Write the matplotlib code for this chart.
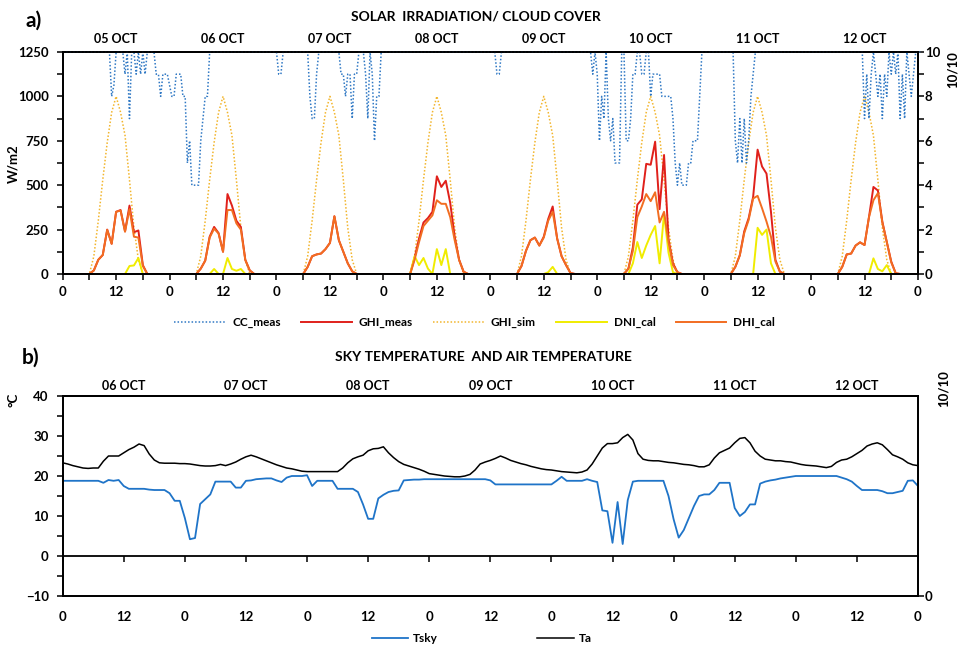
import numpy as np
import matplotlib
matplotlib.use("Agg")
import matplotlib.pyplot as plt
from matplotlib.ticker import MultipleLocator, FixedLocator

plt.rcParams.update({
    "font.family": ["Lato", "DejaVu Sans"],
    "font.weight": "bold",
    "font.size": 9,
    "axes.linewidth": 1.3,
    "xtick.major.width": 1.1, "ytick.major.width": 1.1,
    "xtick.minor.width": 1.1, "ytick.minor.width": 1.1,
})

# ---------------- panel a: hourly irradiation (W/m2), 05-12 OCT, hour 0..192 ----------------
GHI_MEAS = [
    0, 0, 0, 0, 0, 0, 0, 20, 80, 107, 250, 170, 350, 360, 240, 385, 235, 245, 50, 0, 0, 0, 0, 0,     # 05 OCT
    0, 0, 0, 0, 0, 0, 0, 30, 75, 210, 265, 230, 125, 450, 385, 300, 265, 80, 20, 0, 0, 0, 0, 0,      # 06 OCT
    0, 0, 0, 0, 0, 0, 0, 40, 100, 110, 115, 140, 175, 325, 190, 125, 60, 15, 0, 0, 0, 0, 0, 0,      # 07 OCT
    0, 0, 0, 0, 0, 0, 0, 90, 200, 290, 315, 350, 550, 490, 525, 400, 210, 80, 13, 0, 0, 0, 0, 0,    # 08 OCT
    0, 0, 0, 0, 0, 0, 0, 45, 130, 190, 205, 160, 210, 310, 380, 200, 100, 50, 5, 0, 0, 0, 0, 0,     # 09 OCT
    0, 0, 0, 0, 0, 0, 0, 30, 150, 390, 420, 620, 615, 745, 365, 670, 195, 60, 10, 0, 0, 0, 0, 0,    # 10 OCT
    0, 0, 0, 0, 0, 0, 0, 40, 105, 240, 315, 435, 700, 605, 565, 350, 80, 13, 0, 0, 0, 0, 0, 0,      # 11 OCT
    0, 0, 0, 0, 0, 0, 0, 40, 110, 115, 160, 178, 163, 320, 490, 470, 295, 180, 70, 4, 0, 0, 0, 0,   # 12 OCT
    0,
]
DHI_CAL = [
    0, 0, 0, 0, 0, 0, 0, 20, 80, 107, 248, 170, 350, 357, 238, 365, 210, 205, 45, 0, 0, 0, 0, 0,
    0, 0, 0, 0, 0, 0, 0, 30, 75, 205, 255, 228, 125, 360, 360, 285, 250, 78, 20, 0, 0, 0, 0, 0,
    0, 0, 0, 0, 0, 0, 0, 40, 100, 110, 115, 140, 175, 325, 190, 125, 60, 15, 0, 0, 0, 0, 0, 0,
    0, 0, 0, 0, 0, 0, 0, 80, 180, 270, 300, 330, 415, 395, 395, 320, 190, 78, 13, 0, 0, 0, 0, 0,
    0, 0, 0, 0, 0, 0, 0, 45, 130, 190, 205, 160, 205, 300, 350, 200, 100, 50, 5, 0, 0, 0, 0, 0,
    0, 0, 0, 0, 0, 0, 0, 30, 130, 320, 380, 450, 410, 460, 290, 350, 180, 50, 10, 0, 0, 0, 0, 0,
    0, 0, 0, 0, 0, 0, 0, 40, 105, 230, 305, 425, 440, 370, 295, 210, 70, 13, 0, 0, 0, 0, 0, 0,
    0, 0, 0, 0, 0, 0, 0, 40, 110, 115, 160, 178, 163, 320, 415, 455, 290, 180, 65, 4, 0, 0, 0, 0,
    0,
]
DNI_CAL = [
    0, 0, 0, 0, 0, 0, 0, 0, 0, 0, 0, 0, 0, 0, 0, 45, 48, 90, 0, 0, 0, 0, 0, 0,
    0, 0, 0, 0, 0, 0, 0, 0, 0, 0, 28, 0, 0, 90, 28, 18, 28, 0, 0, 0, 0, 0, 0, 0,
    0, 0, 0, 0, 0, 0, 0, 0, 0, 0, 0, 0, 0, 0, 0, 0, 0, 0, 0, 0, 0, 0, 0, 0,
    0, 0, 0, 0, 0, 0, 0, 100, 50, 90, 30, 0, 140, 50, 140, 0, 0, 0, 0, 0, 0, 0, 0, 0,
    0, 0, 0, 0, 0, 0, 0, 0, 0, 0, 0, 0, 0, 10, 40, 0, 0, 0, 0, 0, 0, 0, 0, 0,
    0, 0, 0, 0, 0, 0, 0, 0, 60, 180, 90, 160, 220, 270, 60, 340, 120, 10, 0, 0, 0, 0, 0, 0,
    0, 0, 0, 0, 0, 0, 0, 0, 0, 0, 0, 0, 260, 220, 250, 60, 0, 0, 0, 0, 0, 0, 0, 0,
    0, 0, 0, 0, 0, 0, 0, 0, 0, 0, 0, 0, 0, 0, 88, 28, 15, 50, 0, 0, 0, 0, 0, 0,
    0,
]
# simulated clear-sky GHI, same profile every day
GHI_SIM_DAY = [0, 0, 0, 0, 0, 0, 0, 100, 300, 530, 740, 910, 1000, 910, 780, 530, 260, 80, 0, 0, 0, 0, 0, 0]
GHI_SIM = GHI_SIM_DAY * 8 + [0]

# cloud cover (tenths), half-hourly
CC_MEAS = [
    10, 10, 10, 10, 10, 10, 10, 10, 10, 10, 10, 10, 10, 10, 10, 10, 10, 10, 10, 10, 10, 10,
    8, 8.5, 10, 10, 10, 10, 9, 10, 7, 10, 10, 9, 10, 9, 10, 9, 10, 10, 10, 10, 9, 9, 8, 9, 9, 9,
    8.5, 8, 8, 9, 9, 9, 8, 8, 5, 6, 4, 4, 4, 4, 6, 7, 8, 8, 10,
    10, 10, 10, 10, 10, 10, 10, 10, 10, 10, 10, 10, 10, 10, 10, 10, 10, 10, 10, 10, 10, 10, 10, 10, 10, 10, 10, 10, 10,
    10, 9, 9, 10, 10, 10, 10, 10, 10, 10, 10, 10, 10, 10, 10, 8, 7, 7, 9, 10,
    10, 10, 10, 10, 10, 10, 10, 10, 10, 9, 9, 8, 9, 9, 7, 9, 9, 10, 10, 10, 9, 7, 10, 9, 6, 8, 8, 10,
    10, 10, 10, 10, 10, 10, 10, 10, 10, 10, 10, 10, 10, 10, 10, 10, 10, 10, 10, 10, 10, 10, 10, 10,
    10, 10, 10, 10, 10, 10, 10, 10, 10, 10, 10, 10, 10, 10, 10, 10, 10, 10, 10, 10, 10, 10, 10, 10,
    10, 10, 10, 9, 9, 10, 10, 10, 10, 10, 10, 10, 10, 10, 10, 10, 10, 10, 10, 10, 10, 10, 10, 10,
    10, 10, 10, 10, 10, 10, 10, 10, 10, 10, 10, 10, 10, 10, 10, 10, 10, 10, 10, 10, 10, 10, 9, 10, 9,
    6, 8, 7, 10, 7, 6, 7, 5, 5, 5, 10, 10, 6, 6, 7, 9, 9, 10, 10, 9, 9, 10, 10, 8,
    9, 9, 9, 9, 8, 8, 8, 8, 8, 7, 5, 4, 5, 4, 4, 4, 5, 5, 6, 6, 6, 8, 10, 10,
    10, 10, 10, 10, 10, 10, 10, 10, 10, 10, 10, 10, 10, 6, 5, 7, 5, 7, 5, 6, 8, 9, 10,
    10, 10, 10, 10, 10, 10, 10, 10, 10, 10, 10, 10, 10, 10, 10, 10, 10, 10, 10, 10, 10, 10, 10, 10, 10,
    10, 10, 10, 10, 10, 10, 10, 10, 10, 10, 10, 10, 10, 10, 10, 10, 10, 10, 10, 10, 10, 10, 10,
    7, 9, 7, 9, 10, 9, 8, 9, 7, 9, 8, 10, 9, 10, 9, 10, 7, 9, 7, 10, 9, 8, 9, 10, 10,
    10,
]
DAYS_A = ["05 OCT", "06 OCT", "07 OCT", "08 OCT", "09 OCT", "10 OCT", "11 OCT", "12 OCT"]

# ---------------- panel b: hourly temperatures (deg C), 06-12 OCT, hour 0..168 ----------------
TSKY = [
    18.8, 18.8, 18.8, 18.8, 18.8, 18.8, 18.8, 18.8, 18.3, 19.0, 18.8, 19.0,
    17.5, 16.8, 16.8, 16.8, 16.8, 16.6, 16.5, 16.5, 16.5, 15.7, 13.8, 13.8,
    9.5, 4.2, 4.5, 13.0, 14.2, 15.4, 18.6, 18.6, 18.6, 18.6, 17.1, 17.1,
    18.8, 18.9, 19.2, 19.3, 19.4, 19.4, 18.9, 18.5, 19.6, 20.0, 20.0, 20.0,
    20.2, 17.5, 18.8, 18.8, 18.8, 18.8, 16.8, 16.8, 16.8, 16.8, 16.0, 12.9,
    9.3, 9.3, 14.4, 15.3, 16.0, 16.3, 16.4, 18.9, 19.0, 19.1, 19.1, 19.2,
    19.2, 19.2, 19.2, 19.2, 19.2, 19.2, 19.2, 19.2, 19.2, 19.2, 19.2, 19.2,
    18.9, 17.9, 17.9, 17.9, 17.9, 17.9, 17.9, 17.9, 17.9, 17.9, 17.9, 17.9,
    17.9, 18.8, 19.8, 18.8, 18.8, 18.8, 18.8, 19.2, 18.8, 18.5, 11.4, 11.2,
    3.3, 13.5, 3.0, 14.0, 18.6, 18.8, 18.8, 18.8, 18.8, 18.8, 18.8, 15.0,
    9.2, 4.6, 6.5, 9.5, 12.5, 15.0, 15.4, 15.4, 16.5, 18.3, 18.3, 18.3,
    12.0, 10.0, 11.0, 12.9, 12.9, 18.1, 18.6, 18.9, 19.1, 19.4, 19.6, 19.8,
    20.0, 20.0, 20.0, 20.0, 20.0, 20.0, 20.0, 20.0, 20.0, 19.6, 19.2, 18.6,
    17.5, 16.5, 16.5, 16.5, 16.5, 16.2, 15.7, 15.7, 16.0, 16.3, 18.8, 18.9,
    17.5,
]
TA = [
    23.3, 23.0, 22.6, 22.3, 22.0, 21.9, 22.0, 22.0, 23.7, 25.0, 25.0, 25.0,
    25.8, 26.6, 27.2, 28.0, 27.6, 25.5, 24.0, 23.3, 23.2, 23.2, 23.2, 23.1,
    23.1, 23.0, 22.8, 22.6, 22.5, 22.5, 22.6, 22.9, 22.6, 23.0, 23.5, 24.2,
    24.8, 25.2, 24.8, 24.3, 23.8, 23.3, 22.8, 22.4, 22.0, 21.8, 21.5, 21.2,
    21.1, 21.1, 21.1, 21.1, 21.1, 21.1, 21.1, 22.0, 23.3, 24.3, 24.8, 25.2,
    26.3, 26.8, 26.9, 27.3, 25.8, 24.6, 23.6, 22.9, 22.5, 22.1, 21.7, 21.2,
    20.6, 20.4, 20.2, 20.0, 19.9, 19.8, 19.8, 20.0, 20.4, 21.5, 23.0, 23.5,
    23.9, 24.4, 25.0, 24.5, 23.9, 23.5, 23.1, 22.8, 22.4, 22.1, 21.8, 21.6,
    21.5, 21.3, 21.1, 21.0, 20.9, 20.8, 21.0, 21.5, 23.0, 25.0, 27.0, 28.1,
    28.1, 28.3, 29.6, 30.4, 29.0, 25.6, 24.2, 23.9, 23.8, 23.8, 23.6, 23.4,
    23.3, 23.1, 22.9, 22.8, 22.6, 22.3, 22.3, 22.8, 24.5, 25.8, 26.4, 27.0,
    28.3, 29.4, 29.6, 28.3, 26.2, 25.0, 24.2, 24.0, 23.8, 23.8, 23.6, 23.5,
    23.2, 22.9, 22.7, 22.6, 22.5, 22.3, 22.1, 22.4, 23.4, 24.0, 24.2, 24.8,
    25.6, 26.4, 27.5, 28.0, 28.3, 27.8, 26.6, 25.3, 24.8, 24.2, 23.3, 22.8,
    22.6,
]
DAYS_B = ["06 OCT", "07 OCT", "08 OCT", "09 OCT", "10 OCT", "11 OCT", "12 OCT"]

C_CC, C_GHI, C_SIM, C_DNI, C_DHI = "#2f78c4", "#e0201b", "#f2b52c", "#f0ec00", "#f26d21"
C_TSKY = "#1f74c8"
DOT = (0, (1, 1.3))


def hour_ticks(n):
    pos = np.arange(0, n + 1, 12)
    return pos, ["0" if p % 24 == 0 else "12" for p in pos]


fig = plt.figure(figsize=(9.67, 6.48), dpi=100)

# ================= panel a =================
ax = fig.add_axes([0.0648, 0.5772, 0.8845, 0.3426])
h = np.arange(len(GHI_MEAS))
l_sim, = ax.plot(h, GHI_SIM, color=C_SIM, ls=DOT, lw=1.1, label="GHI_sim")
l_ghi, = ax.plot(h, GHI_MEAS, color=C_GHI, lw=1.4, label="GHI_meas")
l_dni, = ax.plot(h, DNI_CAL, color=C_DNI, lw=1.4, label="DNI_cal")
l_dhi, = ax.plot(h, DHI_CAL, color=C_DHI, lw=1.4, label="DHI_cal")
ax.set_xlim(0, 192); ax.set_ylim(0, 1250)
ax.yaxis.set_major_locator(MultipleLocator(250))
ax.yaxis.set_minor_locator(MultipleLocator(125))
ax.set_xticks(*hour_ticks(192))
ax.xaxis.set_minor_locator(MultipleLocator(6))
ax.tick_params(axis="x", which="both", direction="out", length=4, pad=5, labelsize=9.5)
ax.tick_params(axis="y", which="both", direction="out", length=4, pad=6, labelsize=9.5)

ax2 = ax.twinx()
hc = np.arange(len(CC_MEAS)) * 0.5
l_cc, = ax2.plot(hc, CC_MEAS, color=C_CC, ls=DOT, lw=1.1, label="CC_meas", clip_on=False)
ax2.set_ylim(0, 10)
ax2.yaxis.set_major_locator(MultipleLocator(2))
ax2.yaxis.set_minor_locator(MultipleLocator(1))
ax2.tick_params(axis="y", which="both", direction="out", length=4, pad=1, labelsize=9.5)
for s in ax2.spines.values():
    s.set_linewidth(1.3)

top = ax.secondary_xaxis("top")
top.set_xticks(np.arange(12, 192, 24), DAYS_A)
top.tick_params(length=0, pad=5, labelsize=9)

fig.text(0.014, 0.747, "W/m2", rotation=90, ha="center", va="center", fontsize=9.5)
fig.text(0.985, 0.892, "10/10", rotation=90, ha="center", va="center", fontsize=9.5)
fig.text(0.026, 0.968, "a)", fontsize=15, ha="left", va="center")
fig.text(0.492, 0.975, "SOLAR  IRRADIATION/ CLOUD COVER", ha="center", va="center", fontsize=10)

fig.legend(handles=[l_cc, l_ghi, l_sim, l_dni, l_dhi], loc="center", ncol=5,
           bbox_to_anchor=(0.491, 0.502), frameon=False, fontsize=8.5,
           handlelength=4.3, handletextpad=0.6, columnspacing=1.7)

# ================= panel b =================
bx = fig.add_axes([0.0648, 0.0802, 0.8845, 0.3087])
t = np.arange(len(TA))
l_tsky, = bx.plot(t, TSKY, color=C_TSKY, lw=1.3, label="Tsky")
l_ta, = bx.plot(t, TA, color="black", lw=1.1, label="Ta")
bx.set_xlim(0, 168); bx.set_ylim(-10, 40)
bx.yaxis.set_major_locator(MultipleLocator(10))
bx.yaxis.set_minor_locator(MultipleLocator(5))
bx.tick_params(axis="y", which="both", direction="out", length=4, pad=6, labelsize=9.5)
bx.set_xticks(*hour_ticks(168))
bx.tick_params(axis="x", length=0, pad=11, labelsize=9.5)

zero = bx.secondary_xaxis(0.2)
zero.set_xticks(np.arange(0, 169, 12))
zero.tick_params(axis="x", direction="out", length=4, width=1.1, labelbottom=False)
zero.spines["bottom"].set_linewidth(1.3)

bx2 = bx.twinx()
bx2.set_ylim(0, 10)
bx2.yaxis.set_major_locator(FixedLocator([0]))
bx2.tick_params(axis="y", direction="out", length=4, pad=1, labelsize=9.5)

topb = bx.secondary_xaxis("top")
topb.set_xticks(np.arange(12, 168, 24), DAYS_B)
topb.tick_params(length=0, pad=3, labelsize=9)

fig.text(0.976, 0.401, "10/10", rotation=90, ha="center", va="center", fontsize=9.5)
fig.text(0.014, 0.383, "°C", rotation=90, ha="center", va="center", fontsize=9.5)
fig.text(0.022, 0.448, "b)", fontsize=15, ha="left", va="center")
fig.text(0.5, 0.449, "SKY TEMPERATURE  AND AIR TEMPERATURE", ha="center", va="center", fontsize=10)

fig.legend(handles=[l_tsky, l_ta], loc="center", ncol=2,
           bbox_to_anchor=(0.498, 0.014), frameon=False, fontsize=8.5,
           handlelength=3.1, handletextpad=0.4, columnspacing=8.4)

fig.savefig("out.png", dpi=100)
